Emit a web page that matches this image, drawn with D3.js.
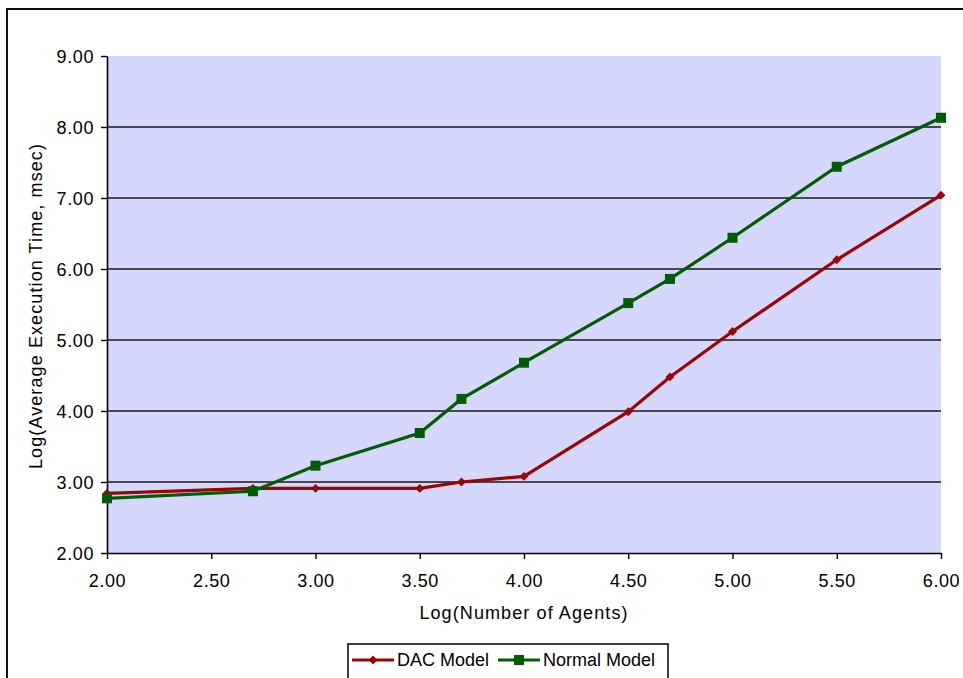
<!DOCTYPE html>
<html>
<head>
<meta charset="utf-8">
<script src="https://cdn.jsdelivr.net/npm/d3@7"></script>
<style>
  body { margin: 0; background: #fff; }
  text { font-family: "Liberation Sans", Arial, sans-serif; fill: #000; }
</style>
</head>
<body>
<div id="chart"></div>
<script>
// Log(Number of Agents) values shared by both series
const agentsLog = [2.00, 2.70, 3.00, 3.50, 3.70, 4.00, 4.50, 4.70, 5.00, 5.50, 6.00];
// Log(Average Execution Time, msec)
const dacModel = [2.84, 2.91, 2.91, 2.91, 3.00, 3.08, 3.99, 4.48, 5.12, 6.13, 7.04];
const normalModel = [2.77, 2.87, 3.23, 3.69, 4.17, 4.68, 5.52, 5.86, 6.44, 7.44, 8.13];

const xTicks = [2.0, 2.5, 3.0, 3.5, 4.0, 4.5, 5.0, 5.5, 6.0];
const yTicks = [2, 3, 4, 5, 6, 7, 8, 9];
const seriesNames = ['DAC Model', 'Normal Model'];

const W = 963, H = 678;
const margin = { top: 56, right: 22, bottom: 125, left: 107 };
const width = W - margin.left - margin.right;
const height = H - margin.top - margin.bottom;

const svg = d3.select('#chart')
  .append('svg')
  .attr('width', W)
  .attr('height', H);

// outer chart border (runs past the right and bottom edges)
svg.append('rect')
  .attr('x', 7).attr('y', 9)
  .attr('width', W + 20).attr('height', H + 20)
  .attr('fill', '#fff')
  .attr('stroke', '#111')
  .attr('stroke-width', 2);

const g = svg.append('g')
  .attr('transform', `translate(${margin.left}, ${margin.top})`);

const xScale = d3.scaleLinear().domain([2, 6]).range([0, width]);
const yScale = d3.scaleLinear().domain([2, 9]).range([height, 0]);

// plot area
g.append('rect')
  .attr('width', width)
  .attr('height', height)
  .attr('fill', '#d5d7fc');

// horizontal gridlines
g.selectAll('.grid')
  .data(yTicks.filter(d => d > 2 && d < 9))
  .enter().append('line')
  .attr('x1', 0).attr('x2', width)
  .attr('y1', d => yScale(d)).attr('y2', d => yScale(d))
  .attr('stroke', '#1a1a1a')
  .attr('stroke-width', 1.6);

// X axis
const xAxis = g.append('g')
  .attr('transform', `translate(0, ${height})`)
  .call(d3.axisBottom(xScale).tickValues(xTicks).tickFormat(d3.format('.2f')).tickSize(6).tickSizeOuter(0));

// Y axis
const yAxis = g.append('g')
  .call(d3.axisLeft(yScale).tickValues(yTicks).tickFormat(d3.format('.2f')).tickSize(6).tickSizeOuter(0));

[xAxis, yAxis].forEach(ax => {
  ax.select('.domain').attr('stroke', '#000').attr('stroke-width', 1.6);
  ax.selectAll('.tick line').attr('stroke', '#000').attr('stroke-width', 1.4);
  ax.selectAll('.tick text')
    .style('font-family', '"Liberation Sans", Arial, sans-serif')
    .style('font-size', '18px')
    .style('letter-spacing', '0.6px')
    .attr('fill', '#000');
});
xAxis.selectAll('.tick text').attr('dy', '0').attr('y', 34);
yAxis.selectAll('.tick text').attr('x', -13).attr('dy', '0.36em');

// axis titles
g.append('text')
  .attr('x', width / 2)
  .attr('y', height + 66)
  .style('text-anchor', 'middle')
  .style('font-size', '18px')
  .style('letter-spacing', '1.1px')
  .text('Log(Number of Agents)');

g.append('text')
  .attr('transform', 'rotate(-90)')
  .attr('x', -250)
  .attr('y', -65)
  .style('text-anchor', 'middle')
  .style('font-size', '18px')
  .style('letter-spacing', '1.1px')
  .text('Log(Average Execution Time, msec)');

const line = d3.line()
  .x(d => xScale(d[0]))
  .y(d => yScale(d[1]));

const series = [
  { name: seriesNames[0], values: dacModel, color: '#990500', marker: 'diamond' },
  { name: seriesNames[1], values: normalModel, color: '#005c00', marker: 'square' }
];

function drawMarker(sel, s, x, y) {
  if (s.marker === 'square') {
    sel.append('rect')
      .attr('x', x - 5).attr('y', y - 5)
      .attr('width', 10).attr('height', 10)
      .attr('fill', s.color);
  } else {
    sel.append('path')
      .attr('d', d3.symbol().type(d3.symbolDiamond2).size(50)())
      .attr('transform', `translate(${x},${y})`)
      .attr('fill', s.color);
  }
}

series.forEach(s => {
  const pts = agentsLog.map((x, i) => [x, s.values[i]]);
  g.append('path')
    .datum(pts)
    .attr('fill', 'none')
    .attr('stroke', s.color)
    .attr('stroke-width', 3.2)
    .attr('d', line);
  pts.forEach(p => drawMarker(g, s, xScale(p[0]), yScale(p[1])));
});

// legend
const legend = svg.append('g').attr('transform', 'translate(348, 644)');
legend.append('rect')
  .attr('width', 320).attr('height', 60)
  .attr('fill', '#fff')
  .attr('stroke', '#111')
  .attr('stroke-width', 1.6);

const legendPos = [{ lx: 4, tx: 49 }, { lx: 150, tx: 195 }];
series.forEach((s, i) => {
  const p = legendPos[i];
  legend.append('line')
    .attr('x1', p.lx).attr('x2', p.lx + 42)
    .attr('y1', 16).attr('y2', 16)
    .attr('stroke', s.color)
    .attr('stroke-width', 3.2);
  drawMarker(legend, s, p.lx + 21, 16);
  legend.append('text')
    .attr('x', p.tx)
    .attr('y', 22)
    .style('font-size', '18px')
    .text(s.name);
});
</script>
</body>
</html>
